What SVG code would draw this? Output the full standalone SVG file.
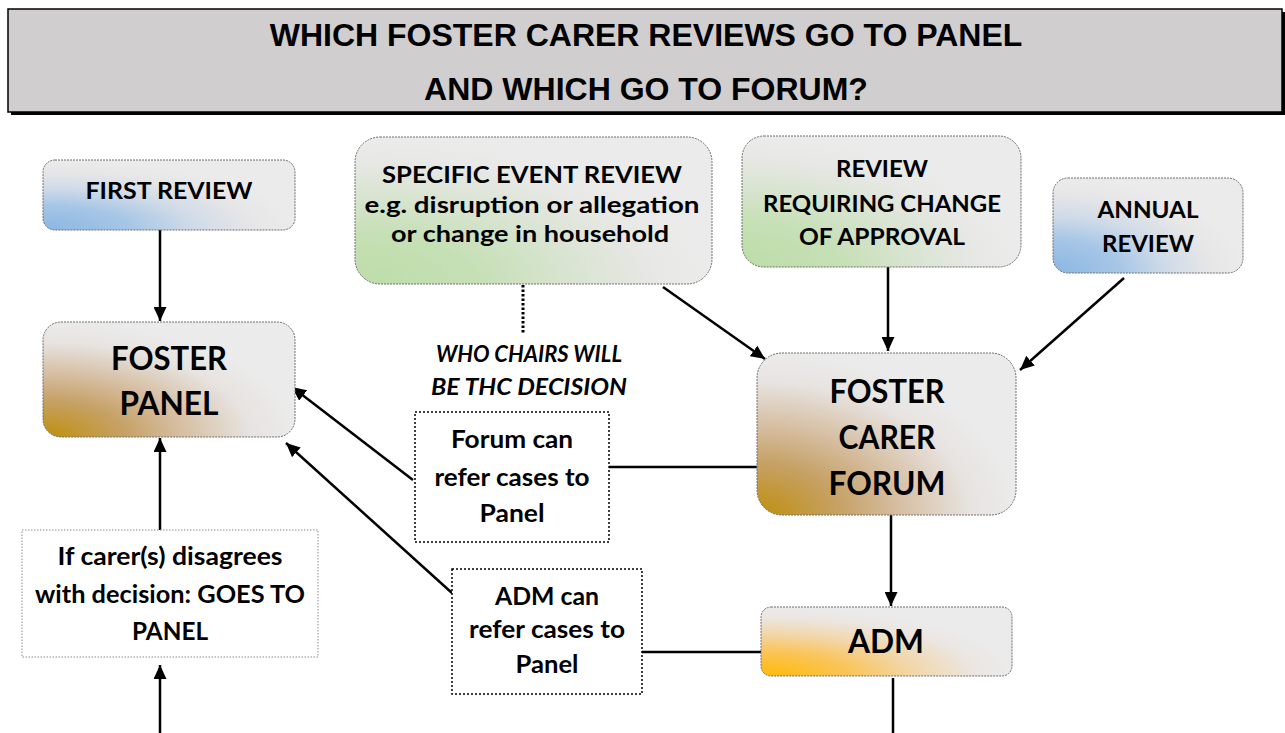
<svg xmlns="http://www.w3.org/2000/svg" width="1285" height="733" viewBox="0 0 1285 733">
<style>
.box{stroke:#6e6e6e;stroke-width:1;stroke-dasharray:2 1}
.dbox{fill:#fff;stroke:#000;stroke-width:1.5;stroke-dasharray:2 2}
.gbox{fill:#fff;stroke:#8c8c8c;stroke-width:1;stroke-dasharray:1.5 1.5}
.t{font-family:Lato,"Liberation Sans",sans-serif;font-weight:bold;fill:#000;text-anchor:middle}
.s{font-size:23px}
.m{font-size:25px}
.b{font-size:32px}
.i{font-style:italic}
.title{font-family:"Liberation Sans",Arial,sans-serif;font-weight:bold;font-size:32px;text-anchor:middle;fill:#000}
.c{fill:none;stroke:#000;stroke-width:2.5}
</style>
<defs>
<marker id="ah" viewBox="0 0 14 13" refX="14" refY="6.5" markerWidth="14" markerHeight="13" markerUnits="userSpaceOnUse" orient="auto">
<path d="M0,0 L14,6.5 L0,13 z" fill="#000"/>
</marker>
<radialGradient id="gBlue" cx="0" cy="1" r="1" fx="0" fy="1">
<stop offset="0" stop-color="#8ab6e2"/>
<stop offset="0.35" stop-color="#a6c6e6"/>
<stop offset="0.6" stop-color="#d0dbe8"/>
<stop offset="0.85" stop-color="#e8e7e7"/>
<stop offset="1" stop-color="#ebebeb"/>
</radialGradient>
<radialGradient id="gGreen" cx="0" cy="1" r="1" fx="0" fy="1">
<stop offset="0" stop-color="#bcdda8"/>
<stop offset="0.35" stop-color="#c6e0b6"/>
<stop offset="0.6" stop-color="#d8e4d0"/>
<stop offset="0.85" stop-color="#e8e8e6"/>
<stop offset="1" stop-color="#ebebeb"/>
</radialGradient>
<radialGradient id="gGold" cx="0" cy="1" r="1" fx="0" fy="1">
<stop offset="0" stop-color="#bf8f0c"/>
<stop offset="0.32" stop-color="#c6a165"/>
<stop offset="0.55" stop-color="#d6bea2"/>
<stop offset="0.82" stop-color="#e7e3e0"/>
<stop offset="1" stop-color="#ebebeb"/>
</radialGradient>
<radialGradient id="gOrange" cx="0" cy="1" r="1" fx="0" fy="1">
<stop offset="0" stop-color="#ffba05"/>
<stop offset="0.35" stop-color="#fac457"/>
<stop offset="0.6" stop-color="#f2d6a8"/>
<stop offset="0.85" stop-color="#ebe6e1"/>
<stop offset="1" stop-color="#ebebeb"/>
</radialGradient>
</defs>

<g id="title">
<rect x="11" y="12" width="1274" height="103" fill="#000"/>
<rect x="8" y="9" width="1274" height="103" fill="#d0cece" stroke="#000" stroke-width="1.5"/>
<text class="title" x="646" y="46">WHICH FOSTER CARER REVIEWS GO TO PANEL</text>
<text class="title" x="646" y="100">AND WHICH GO TO FORUM?</text>
</g>

<g id="connectors">
<path class="c" d="M160,230 L160,321" marker-end="url(#ah)"/>
<path class="c" d="M160,530 L160,438" marker-end="url(#ah)"/>
<path class="c" d="M160,733 L160,665" marker-end="url(#ah)"/>
<path class="c" d="M413,480 L292,387" marker-end="url(#ah)"/>
<path class="c" d="M452,593 L286,443" marker-end="url(#ah)"/>
<path class="c" d="M609,467 L757,467"/>
<path class="c" d="M642,652 L761,652"/>
<path class="c" d="M663,287 L765,359" marker-end="url(#ah)"/>
<path class="c" d="M888,267 L888,351" marker-end="url(#ah)"/>
<path class="c" d="M1124,278 L1020,370" marker-end="url(#ah)"/>
<path class="c" d="M891,515 L891,606" marker-end="url(#ah)"/>
<path class="c" d="M893,678 L893,733"/>
<path d="M523,285 L523,333" fill="none" stroke="#000" stroke-width="3" stroke-dasharray="2.5 2"/>
</g>

<g id="first-review">
<rect class="box" x="43" y="160" width="252" height="70" rx="12" fill="url(#gBlue)"/>
<text class="t s" x="169" y="199" textLength="167" lengthAdjust="spacingAndGlyphs">FIRST REVIEW</text>
</g>

<g id="foster-panel">
<rect class="box" x="43" y="322" width="252" height="115" rx="18" fill="url(#gGold)"/>
<text class="t b" x="169" y="370" textLength="116" lengthAdjust="spacingAndGlyphs">FOSTER</text>
<text class="t b" x="169" y="415" textLength="99" lengthAdjust="spacingAndGlyphs">PANEL</text>
</g>

<g id="specific-event-review">
<rect class="box" x="355" y="137" width="357" height="147" rx="25" fill="url(#gGreen)"/>
<text class="t s" x="532" y="183" textLength="300" lengthAdjust="spacingAndGlyphs">SPECIFIC EVENT REVIEW</text>
<text class="t s" x="532" y="213" textLength="335" lengthAdjust="spacingAndGlyphs">e.g. disruption or allegation</text>
<text class="t s" x="530" y="242" textLength="278" lengthAdjust="spacingAndGlyphs">or change in household</text>
</g>

<g id="who-chairs">
<text class="t s i" x="529" y="362" textLength="186" lengthAdjust="spacingAndGlyphs">WHO CHAIRS WILL</text>
<text class="t s i" x="529" y="395" textLength="196" lengthAdjust="spacingAndGlyphs">BE THC DECISION</text>
</g>

<g id="review-requiring-change">
<rect class="box" x="742" y="136" width="279" height="131" rx="22" fill="url(#gGreen)"/>
<text class="t s" x="882" y="177" textLength="92" lengthAdjust="spacingAndGlyphs">REVIEW</text>
<text class="t s" x="882" y="212" textLength="238" lengthAdjust="spacingAndGlyphs">REQUIRING CHANGE</text>
<text class="t s" x="882" y="245" textLength="166" lengthAdjust="spacingAndGlyphs">OF APPROVAL</text>
</g>

<g id="annual-review">
<rect class="box" x="1053" y="178" width="190" height="95" rx="15" fill="url(#gBlue)"/>
<text class="t s" x="1148" y="218" textLength="101" lengthAdjust="spacingAndGlyphs">ANNUAL</text>
<text class="t s" x="1148" y="252" textLength="92" lengthAdjust="spacingAndGlyphs">REVIEW</text>
</g>

<g id="foster-carer-forum">
<rect class="box" x="757" y="353" width="259" height="162" rx="25" fill="url(#gGold)"/>
<text class="t b" x="887" y="403" textLength="115" lengthAdjust="spacingAndGlyphs">FOSTER</text>
<text class="t b" x="887" y="449" textLength="97" lengthAdjust="spacingAndGlyphs">CARER</text>
<text class="t b" x="887" y="495" textLength="117" lengthAdjust="spacingAndGlyphs">FORUM</text>
</g>

<g id="forum-can-refer">
<rect class="dbox" x="415" y="412" width="194" height="130"/>
<text class="t m" x="512" y="448" textLength="122" lengthAdjust="spacingAndGlyphs">Forum can</text>
<text class="t m" x="512" y="486" textLength="155" lengthAdjust="spacingAndGlyphs">refer cases to</text>
<text class="t m" x="512" y="522" textLength="65" lengthAdjust="spacingAndGlyphs">Panel</text>
</g>

<g id="adm-can-refer">
<rect class="dbox" x="452" y="569" width="190" height="125"/>
<text class="t m" x="547" y="605" textLength="104" lengthAdjust="spacingAndGlyphs">ADM can</text>
<text class="t m" x="547" y="638" textLength="156" lengthAdjust="spacingAndGlyphs">refer cases to</text>
<text class="t m" x="547" y="673" textLength="63" lengthAdjust="spacingAndGlyphs">Panel</text>
</g>

<g id="adm">
<rect class="box" x="761" y="607" width="251" height="69" rx="10" fill="url(#gOrange)"/>
<text class="t b" x="886" y="653" textLength="76" lengthAdjust="spacingAndGlyphs">ADM</text>
</g>

<g id="carer-disagrees">
<rect class="gbox" x="22" y="530" width="296" height="127"/>
<text class="t m" x="170" y="565" textLength="225" lengthAdjust="spacingAndGlyphs">If carer(s) disagrees</text>
<text class="t m" x="170" y="603" textLength="270" lengthAdjust="spacingAndGlyphs">with decision: GOES TO</text>
<text class="t m" x="170" y="640" textLength="76" lengthAdjust="spacingAndGlyphs">PANEL</text>
</g>
</svg>
